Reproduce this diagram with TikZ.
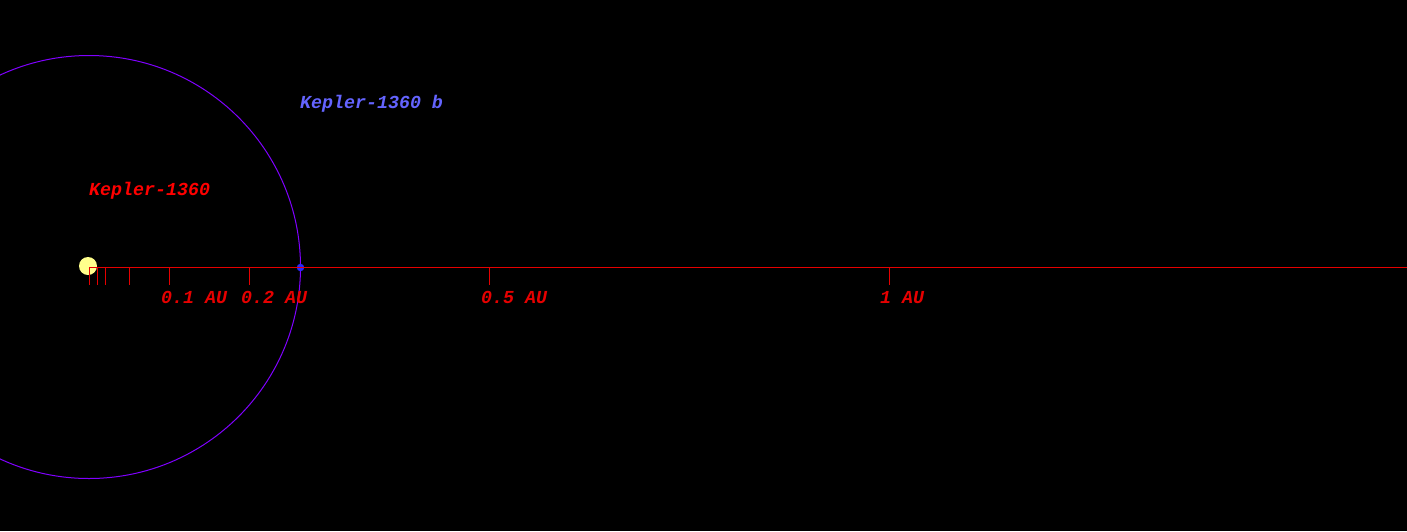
\documentclass[tikz,border=0pt]{standalone}
\usepackage{fontspec}
\newfontfamily\monofont{Liberation Mono}
\definecolor{orbitcol}{RGB}{128,0,255}
\definecolor{planetcol}{RGB}{40,40,255}
\definecolor{plabel}{RGB}{100,100,255}
\definecolor{starcol}{RGB}{255,255,140}
\definecolor{axcol}{RGB}{230,0,0}
\begin{document}
\begin{tikzpicture}[x=1pt,y=-1pt,
  lbl/.style={font=\monofont\bfseries\itshape\fontsize{18.3}{20}\selectfont, inner sep=0pt, anchor=base west},
  tick/.style={draw=axcol, line width=1pt},
  ]
\fill[black] (0,0) rectangle (1407,531);
\useasboundingbox (0,0) rectangle (1407,531);
% star
\node[circle, fill=starcol, minimum size=18pt, inner sep=0pt] (star) at (88,266) {};
% orbit
\draw[orbitcol, line width=1pt] (89,267) circle (211.5);
% planet
\node[circle, fill=planetcol, minimum size=7.5pt, inner sep=0pt] (planet) at (300.5,267.5) {};
% axis
\coordinate (ax0) at (89,267);
\coordinate (axend) at (1407,267);
\draw[tick] (ax0) -- (axend);
\foreach \x in {89,97,105,129,169,249,489,889} {
  \draw[tick] (\x,267) -- (\x,285);
}
% labels
\node[lbl, text=axcol] (l01) at (161,303) {0.1 AU};
\node[lbl, text=axcol] (l02) at (241,303) {0.2 AU};
\node[lbl, text=axcol] (l05) at (481,303) {0.5 AU};
\node[lbl, text=axcol] (l1) at (880,303) {1 AU};
\node[lbl, text=red] (starlbl) at (89,195) {Kepler-1360};
\node[lbl, text=plabel] (planetlbl) at (300,108) {Kepler-1360 b};
\end{tikzpicture}
\end{document}
